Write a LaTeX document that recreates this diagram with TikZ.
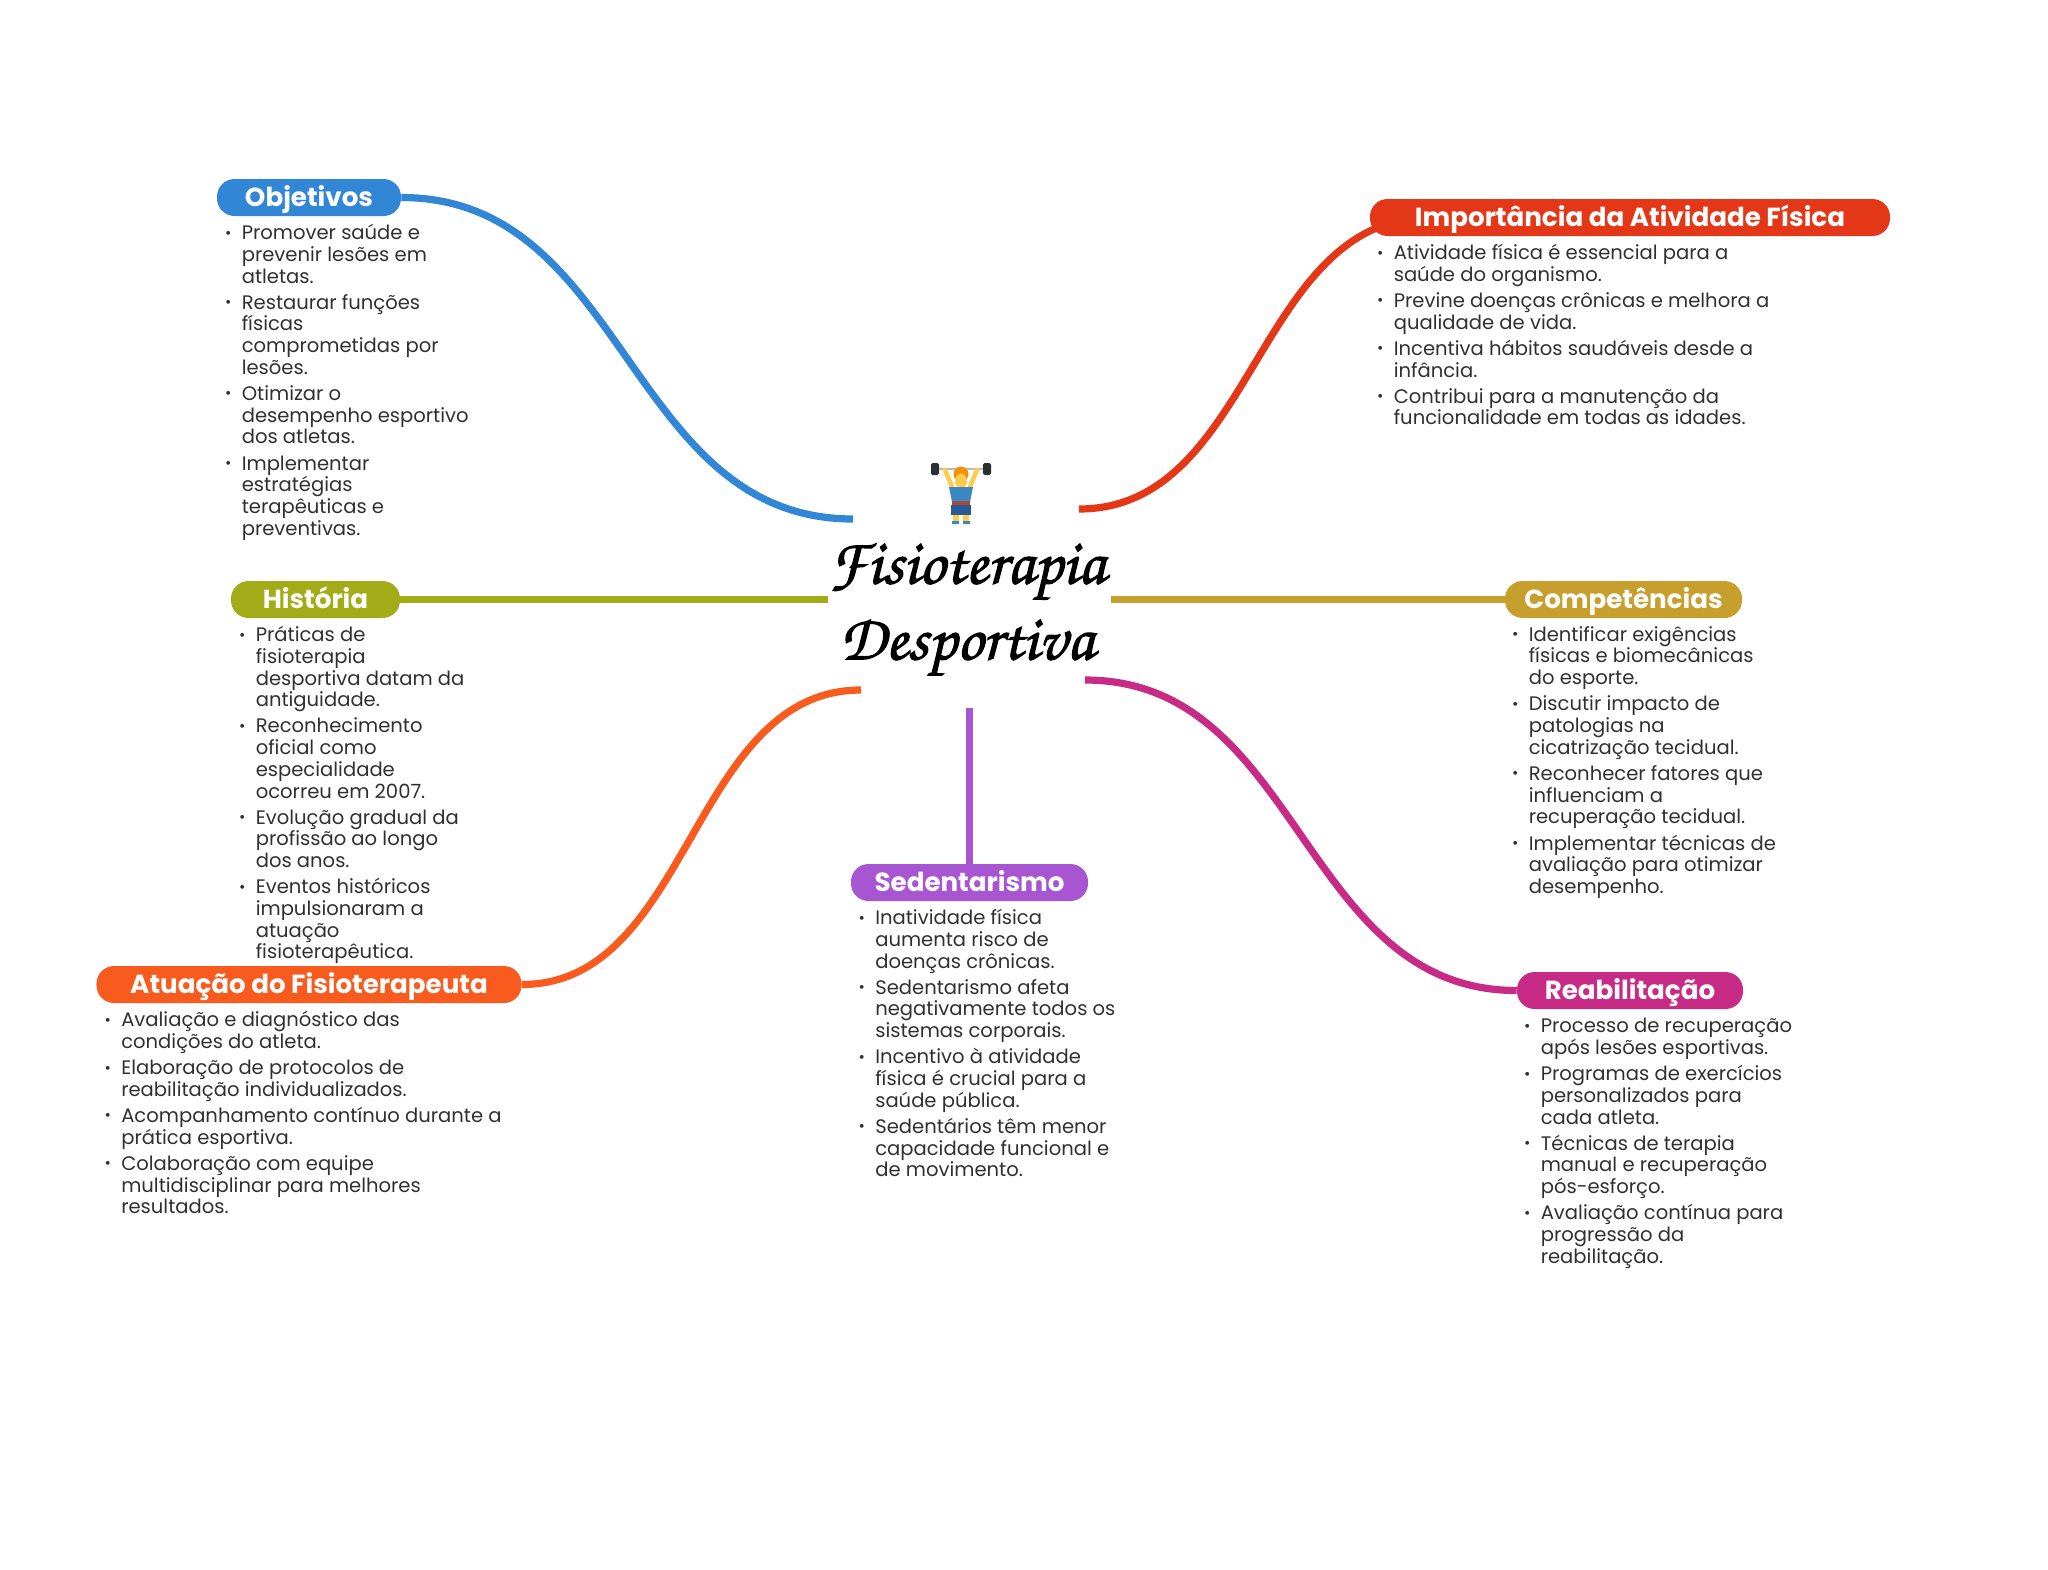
\documentclass[tikz,border=0pt]{standalone}
\usepackage[T1]{fontenc}
\usepackage{fontspec}
\setmainfont{Poppins}
\usetikzlibrary{backgrounds}
\definecolor{objetivoscolor}{RGB}{49,134,214}
\definecolor{importanciacolor}{RGB}{228,55,24}
\definecolor{historiacolor}{RGB}{162,172,24}
\definecolor{competenciascolor}{RGB}{199,159,44}
\definecolor{atuacaocolor}{RGB}{249,90,30}
\definecolor{sedentarismocolor}{RGB}{168,85,209}
\definecolor{reabilitacaocolor}{RGB}{199,43,133}
\definecolor{bodytext}{RGB}{48,48,48}
\definecolor{skincolor}{RGB}{255,204,77}
\definecolor{haircolor}{RGB}{244,144,12}
\definecolor{shirtcolor}{RGB}{59,136,195}
\definecolor{shortscolor}{RGB}{40,90,150}
\definecolor{beltcolor}{RGB}{165,75,60}
\definecolor{platecolor}{RGB}{41,47,51}
\newcommand{\itm}{\leavevmode\llap{\raisebox{0.08em}{\fontsize{11pt}{11pt}\selectfont\textbullet}\hspace{2.6mm}}}
\newcommand{\nxt}{\\[3.15pt]\itm }
\tikzset{
    pill/.style={fill=#1,text=white,rounded corners=4.4mm,minimum height=9.25mm,inner sep=0pt,
        text height=5.85mm,text depth=1.2mm,font=\fontsize{18.6pt}{20pt}\selectfont\bfseries},
    itemlist/.style={anchor=north west,align=left,inner sep=0pt,text=bodytext,
        font=\fontsize{13.92pt}{15.45pt}\selectfont},
    branchline/.style={draw=#1,line width=1.8mm},
    titletext/.style={font=\fontencoding{T1}\fontfamily{pzc}\fontseries{mb}\fontshape{it}\fontsize{46pt}{54pt}\selectfont,align=center,text=black,inner sep=0pt}
}
\begin{document}
\begin{tikzpicture}[x=0.25mm,y=-0.25mm]
            \useasboundingbox (0,0) rectangle (2048,1569);
            % central topic
            \node[titletext] (centro) at (967,611.5) {\special{pdf:code 2 Tr 0.7 w}Fisioterapia\\Desportiva\special{pdf:code 0 Tr}};
            % weightlifter
            \fill[platecolor,rounded corners=0.4mm] (931,463) rectangle (939,475);
            \fill[platecolor,rounded corners=0.4mm] (983,463) rectangle (991,475);
            \fill[gray!55] (939,467.5) rectangle (983,469.5);
            \draw[skincolor,line width=3.2pt,line cap=round] (945,470) -- (953,489) (977,470) -- (969,489);
            \fill[skincolor] (961,482) circle (6);
            \fill[haircolor] (961,474) circle (7.5);
            \fill[skincolor] (961,479) circle (5.5);
            \fill[shirtcolor] (949,487) -- (973,487) -- (970,502) -- (952,502) -- cycle;
            \fill[beltcolor] (952,501) rectangle (970,505);
            \fill[shortscolor] (951,505) rectangle (971,515);
            \fill[skincolor] (953,515) rectangle (959,522) (963,515) rectangle (969,522);
            \fill[shirtcolor] (952,521) rectangle (959,524) (963,521) rectangle (970,524);
            % branches
            \node[pill=objetivoscolor,minimum width=46mm] (objetivos) at (309,197.5) {Objetivos};
            \node[pill=importanciacolor,minimum width=130mm] (importancia) at (1630,217.5) {Importância da Atividade Física};
            \node[pill=historiacolor,minimum width=42.25mm] (historia) at (315.5,599.5) {História};
            \node[pill=competenciascolor,minimum width=59.25mm] (competencias) at (1623.5,599.5) {Competências};
            \node[pill=atuacaocolor,minimum width=106.25mm] (atuacao) at (309,984.5) {Atuação do Fisioterapeuta};
            \node[pill=sedentarismocolor,minimum width=59.25mm] (sedentarismo) at (969.5,882.5) {Sedentarismo};
            \node[pill=reabilitacaocolor,minimum width=56.5mm] (reabilitacao) at (1630,990.5) {Reabilitação};
            % lists
            \node[itemlist] (objetivoslist) at (241.5,224) {\itm Promover saúde e\\prevenir lesões em\\atletas.\nxt Restaurar funções\\físicas\\comprometidas por\\lesões.\nxt Otimizar o\\desempenho esportivo\\dos atletas.\nxt Implementar\\estratégias\\terapêuticas e\\preventivas.};
            \node[itemlist] (importancialist) at (1393.5,244) {\itm Atividade física é essencial para a\\saúde do organismo.\nxt Previne doenças crônicas e melhora a\\qualidade de vida.\nxt Incentiva hábitos saudáveis desde a\\infância.\nxt Contribui para a manutenção da\\funcionalidade em todas as idades.};
            \node[itemlist] (historialist) at (255.5,626) {\itm Práticas de\\fisioterapia\\desportiva datam da\\antiguidade.\nxt Reconhecimento\\oficial como\\especialidade\\ocorreu em 2007.\nxt Evolução gradual da\\profissão ao longo\\dos anos.\nxt Eventos históricos\\impulsionaram a\\atuação\\fisioterapêutica.};
            \node[itemlist] (competenciaslist) at (1528.5,626) {\itm Identificar exigências\\físicas e biomecânicas\\do esporte.\nxt Discutir impacto de\\patologias na\\cicatrização tecidual.\nxt Reconhecer fatores que\\influenciam a\\recuperação tecidual.\nxt Implementar técnicas de\\avaliação para otimizar\\desempenho.};
            \node[itemlist] (atuacaolist) at (121,1011) {\itm Avaliação e diagnóstico das\\condições do atleta.\nxt Elaboração de protocolos de\\reabilitação individualizados.\nxt Acompanhamento contínuo durante a\\prática esportiva.\nxt Colaboração com equipe\\multidisciplinar para melhores\\resultados.};
            \node[itemlist] (sedentarismolist) at (875,909) {\itm Inatividade física\\aumenta risco de\\doenças crônicas.\nxt Sedentarismo afeta\\negativamente todos os\\sistemas corporais.\nxt Incentivo à atividade\\física é crucial para a\\saúde pública.\nxt Sedentários têm menor\\capacidade funcional e\\de movimento.};
            \node[itemlist] (reabilitacaolist) at (1540.5,1018) {\itm Processo de recuperação\\após lesões esportivas.\nxt Programas de exercícios\\personalizados para\\cada atleta.\nxt Técnicas de terapia\\manual e recuperação\\pós-esforço.\nxt Avaliação contínua para\\progressão da\\reabilitação.};
            % free ends near the title
            \coordinate (objetivosend) at (853,519);
            \coordinate (importanciaend) at (1079,509);
            \coordinate (importanciatip) at (1430,217.5);
            \coordinate (historiaend) at (828,599.5);
            \coordinate (competenciasend) at (1111,599.5);
            \coordinate (atuacaoend) at (861,690);
            \coordinate (sedentarismoend) at (969.5,708);
            \coordinate (reabilitacaoend) at (1085,680);
            \begin{scope}[on background layer]
                \draw[branchline=objetivoscolor] (objetivos.east) .. controls (627,197.5) and (627,519) .. (objetivosend);
                \draw[branchline=importanciacolor] (importanciaend) .. controls (1255,509) and (1255,217.5) .. (importanciatip);
                \draw[branchline=historiacolor] (historia.east) -- (historiaend);
                \draw[branchline=competenciascolor] (competenciasend) -- (competencias.west);
                \draw[branchline=atuacaocolor] (atuacaoend) .. controls (691,690) and (691,984.5) .. (atuacao.east);
                \draw[branchline=sedentarismocolor] (sedentarismoend) -- (sedentarismo.north);
                \draw[branchline=reabilitacaocolor] (reabilitacaoend) .. controls (1301,680) and (1301,990.5) .. (reabilitacao.west);
            \end{scope}
        \end{tikzpicture}
\end{document}
